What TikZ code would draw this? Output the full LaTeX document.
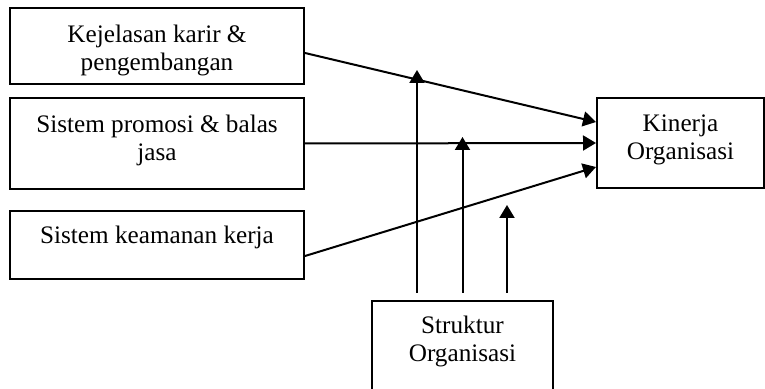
\documentclass[tikz,border=0pt]{standalone}
\usepackage{fontspec}
\setmainfont{Liberation Serif}
\usetikzlibrary{arrows.meta,positioning}

\begin{document}
\begin{tikzpicture}[
    x=0.5pt, y=-0.5pt,
    box/.style={draw, rectangle, line width=1pt, inner sep=0pt},
    txt/.style={align=center, anchor=north, inner sep=0pt, font=\fontsize{12.6}{14}\selectfont},
    edge/.style={-{Triangle[length=6.5pt,width=7.5pt]}, line width=1pt},
]

\useasboundingbox (0,0) rectangle (765,389);

% Boxes
\node[box, minimum width=147pt, minimum height=38pt] (karir) at (157,46) {};
\node[box, minimum width=147pt, minimum height=45.5pt] (promosi) at (157,143.5) {};
\node[box, minimum width=147pt, minimum height=34pt] (aman) at (157,245) {};
\node[box, minimum width=83.5pt, minimum height=45pt] (kinerja) at (680.5,143) {};
\node[box, minimum width=90.5pt, minimum height=50pt] (struktur) at (462.5,351) {};

% Texts
\node[txt, below=8.6pt of karir.north] (tkarir) {Kejelasan karir \&\\pengembangan};
\node[txt, below=8.6pt of promosi.north] (tpromosi) {Sistem promosi \& balas\\jasa};
\node[txt, below=7.6pt of aman.north] (taman) {Sistem keamanan kerja};
\node[txt, below=8.6pt of kinerja.north] (tkinerja) {Kinerja\\Organisasi};
\node[txt, below=7.6pt of struktur.north] (tstruktur) {Struktur\\Organisasi};

% Free ends of the moderating arrows
\coordinate (m1) at (417,70);
\coordinate (m2) at (462.5,137);
\coordinate (m3) at (507,205);

\draw[edge] ([yshift=-3.5pt]karir.east) -- ([yshift=10.5pt]kinerja.west);
\draw[edge] (promosi.east) -- (kinerja.west);
\draw[edge] ([yshift=-5.5pt]aman.east) -- ([yshift=-12pt]kinerja.west);

\draw[edge] ([xshift=-22.75pt,yshift=3.5pt]struktur.north) -- (m1);
\draw[edge] ([yshift=3.5pt]struktur.north) -- (m2);
\draw[edge] ([xshift=22.25pt,yshift=3.5pt]struktur.north) -- (m3);

\end{tikzpicture}
\end{document}
